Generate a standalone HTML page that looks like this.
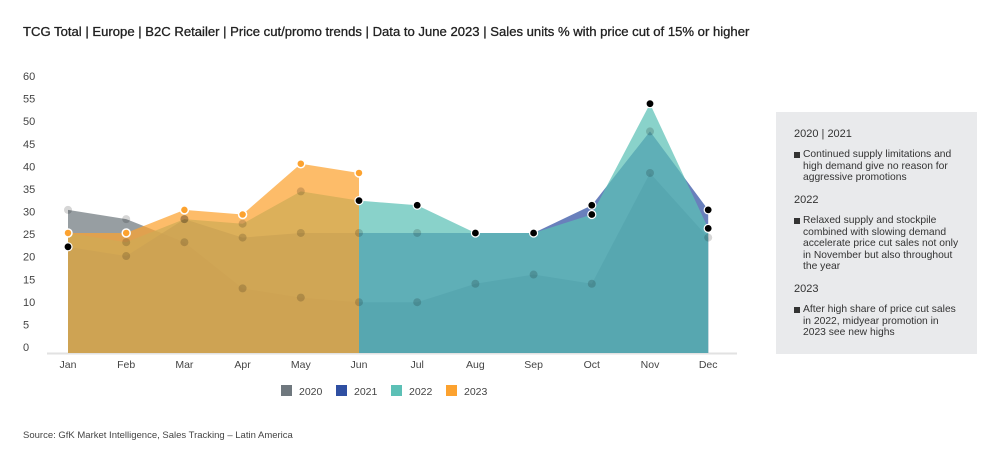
<!DOCTYPE html>
<html><head><meta charset="utf-8"><style>
body{margin:0;width:1000px;height:465px;background:#fff;font-family:"Liberation Sans",sans-serif;color:#333;position:relative;overflow:hidden}
.title{position:absolute;left:23px;top:24px;font-size:13.1px;color:#222;-webkit-text-stroke:0.3px #222}
.src{position:absolute;left:23px;top:430px;font-size:9.5px;color:#444}
.panel{position:absolute;left:776px;top:112px;width:201px;height:242px;background:#e9eaec;font-size:10.3px;line-height:11.6px;color:#333}
.panel h4{margin:0;font-weight:normal;font-size:11px;position:absolute;left:18px}
.panel .b{position:absolute;left:27px;width:160px}
.panel .b:before{content:"";position:absolute;left:-9px;top:3px;width:6px;height:6px;background:#333}
</style></head><body>
<div class="title">TCG Total | Europe | B2C Retailer | Price cut/promo trends | Data to June 2023 | Sales units % with price cut of 15% or higher</div>
<svg id="chart" width="1000" height="465" style="position:absolute;left:0;top:0"></svg>
<div class="panel">
<h4 style="top:17px">2020 | 2021</h4>
<div class="b" style="top:37px">Continued supply limitations and high demand give no reason for aggressive promotions</div>
<h4 style="top:83px">2022</h4>
<div class="b" style="top:103px">Relaxed supply and stockpile combined with slowing demand accelerate price cut sales not only in November but also throughout the year</div>
<h4 style="top:172px">2023</h4>
<div class="b" style="top:192px">After high share of price cut sales in 2022, midyear promotion in 2023 see new highs</div>
</div>
<div class="src">Source: GfK Market Intelligence, Sales Tracking – Latin America</div>
<script>
const months=["Jan","Feb","Mar","Apr","May","Jun","Jul","Aug","Sep","Oct","Nov","Dec"];
const yTicks=[0,5,10,15,20,25,30,35,40,45,50,55,60];
const years=["2020","2021","2022","2023"];
const s2020=[31,29,24,14,12,11,11,15,17,15,39,25];
const s2021=[23,21,29,25,26,26,26,26,26,32,48,31];
const s2022=[26,24,29,28,35,33,32,26,26,30,54,27];
const s2023=[26,26,31,30,41,39];
const highlight2021=[0,9,11];
const colors=["#6f787e","#2f4fa2","#5cc0b6","#fca22f"];
const NS="http://www.w3.org/2000/svg";
const svg=document.getElementById('chart');
const x=i=>68+i*58.2;
const y=v=>353-v*(277/60);
const yl=v=>351-v*(271/60);
function mk(t,a){const e=document.createElementNS(NS,t);for(const k in a)e.setAttribute(k,a[k]);svg.appendChild(e);return e;}
yTicks.forEach(t=>{const e=mk('text',{x:23,y:yl(t),'font-size':11,fill:'#444'});e.textContent=t;

});
const ax=mk('line',{x1:47,x2:737,y1:353.5,y2:353.5,stroke:'#e2e2e2','stroke-width':2});


months.forEach((m,i)=>{const e=mk('text',{x:x(i),y:368,'font-size':10.5,fill:'#444','text-anchor':'middle'});e.textContent=m;

});
const series=[s2020,s2021,s2022,s2023];
series.forEach((s,k)=>{
 let d='M'+x(0)+','+y(0);
 s.forEach((v,i)=>d+=' L'+x(i)+','+y(v));
 d+=' L'+x(s.length-1)+','+y(0)+' Z';
 const p=mk('path',{d:d,fill:colors[k],'fill-opacity':0.72});
 
 
});
series.forEach((s,k)=>{
 s.forEach((v,i)=>{
  const black=(k==2 && i>=5) || (k==1 && highlight2021.includes(i));
  let a;
  if(k==3) a={fill:colors[3],stroke:'#fff','stroke-width':1.5};
  else if(black) a={fill:'#000',stroke:'#fff','stroke-width':1.2};
  else a={fill:'#000','fill-opacity':0.16,stroke:'none'};
  a.cx=x(i);a.cy=y(v);a.r=4;
  const c=mk('circle',a);
  
  
 });
});
years.forEach((yr,k)=>{
 const lx=281+k*55;
 const r=mk('rect',{x:lx,y:385,width:11,height:11,fill:colors[k]});
 
 
 const t=mk('text',{x:lx+18,y:395,'font-size':10.5,fill:'#444'});t.textContent=yr;
 
 
});
</script>
</body></html>
